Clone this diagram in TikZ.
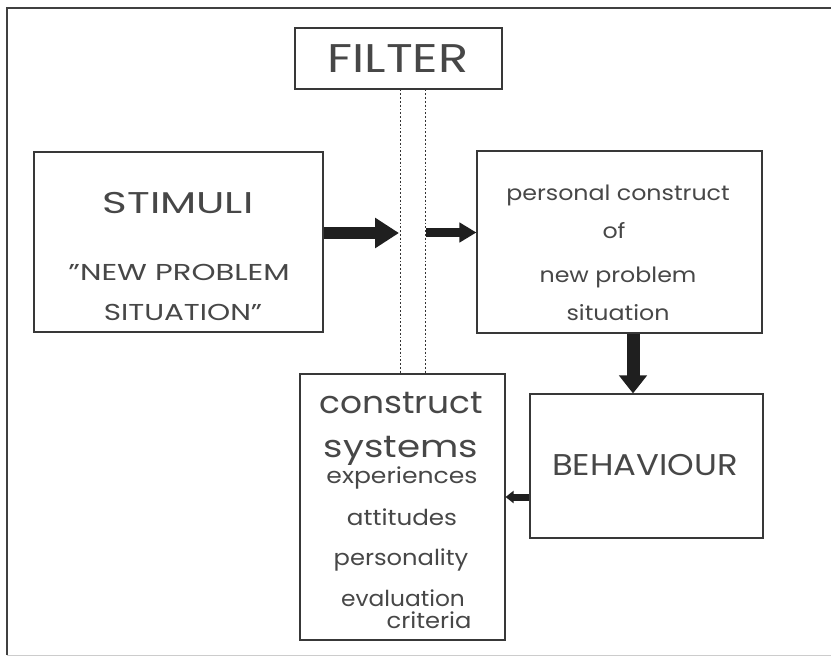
\documentclass[tikz,border=0pt]{standalone}
\usepackage{fontspec}
\setmainfont{Poppins}
\usetikzlibrary{arrows.meta}
\newcommand{\wx}[2]{\scalebox{#1}[1]{#2}}
\begin{document}
\begin{tikzpicture}[x=1pt,y=-1pt,
  box/.style={draw=black!78,line width=1.1pt,inner sep=0pt,fill=none},
  txt/.style={inner sep=0pt,anchor=base,text=black!72},
  blockarrow/.style={draw=black!88,line cap=butt},
  dotline/.style={draw=black!80,line width=1pt,dash pattern=on 1.8pt off 2pt}]
\useasboundingbox (0,0) rectangle (831,659);
% frame
\draw[black!75,line width=1.3pt] (7,655) -- (7,8) -- (831,8);
\draw[black!20,line width=1pt] (7,655) -- (831,655);
% boxes
\node[box,minimum width=207pt,minimum height=61pt] (filter) at (398.5,58.5) {};
\node[box,minimum width=289pt,minimum height=180pt] (stim) at (178.5,242) {};
\node[box,minimum width=285pt,minimum height=182pt] (pers) at (619.5,242) {};
\node[box,minimum width=233pt,minimum height=144pt] (beh) at (646.5,466) {};
\node[box,minimum width=205pt,minimum height=266pt] (cons) at (402.5,507) {};
% filter lines
\coordinate (d1t) at (400,89.5);
\coordinate (d2t) at (425,89.5);
\coordinate (d1b) at (400,374);
\coordinate (d2b) at (425,374);
\draw[dotline] (d1t) -- (d1b);
\draw[dotline] (d2t) -- (d2b);
% texts
\node[txt,font=\fontsize{40}{40}\selectfont] (tf) at (398,72) {\wx{1.24}{FILTER}};
\node[txt,font=\fontsize{30}{30}\selectfont] (ts1) at (178,213) {\wx{1.4}{STIMULI}};
\node[txt,font=\fontsize{23}{23}\selectfont] (ts2) at (179,280) {\wx{1.33}{"NEW PROBLEM}};
\node[txt,font=\fontsize{23}{23}\selectfont] (ts3) at (183,320) {\wx{1.28}{SITUATION"}};
\node[txt,font=\fontsize{21}{21}\selectfont] (tp1) at (618,200) {\wx{1.13}{personal construct}};
\node[txt,font=\fontsize{21}{21}\selectfont] (tp2) at (614,238) {\wx{1.13}{of}};
\node[txt,font=\fontsize{21}{21}\selectfont] (tp3) at (618,282) {\wx{1.13}{new problem}};
\node[txt,font=\fontsize{21}{21}\selectfont] (tp4) at (618,320) {\wx{1.13}{situation}};
\node[txt,font=\fontsize{30}{30}\selectfont] (tb) at (645,475) {\wx{1.13}{BEHAVIOUR}};
\node[txt,font=\fontsize{31}{31}\selectfont] (tc1) at (401,413) {\wx{1.11}{construct}};
\node[txt,font=\fontsize{31}{31}\selectfont] (tc2) at (401,457) {\wx{1.2}{systems}};
\node[txt,font=\fontsize{22}{22}\selectfont] (tc3) at (402,483) {\wx{1.14}{experiences}};
\node[txt,font=\fontsize{22}{22}\selectfont] (tc4) at (402,525) {\wx{1.12}{attitudes}};
\node[txt,font=\fontsize{22}{22}\selectfont] (tc5) at (401,565) {\wx{1.1}{personality}};
\node[txt,font=\fontsize{22}{22}\selectfont] (tc6) at (403,606) {\wx{1.06}{evaluation}};
\node[txt,font=\fontsize{22}{22}\selectfont] (tc7) at (429,628) {\wx{1.1}{criteria}};
% arrows
\coordinate (a1e) at (399,233);
\coordinate (a2s) at (426,232.5);
\draw[blockarrow,line width=12pt,-{Triangle[width=29pt,length=24pt]}] (stim.east |- a1e) -- (a1e);
\draw[blockarrow,line width=9pt,-{Triangle[width=19pt,length=17pt]}] (a2s) -- (pers.west |- a2s);
\draw[blockarrow,line width=13pt,-{Triangle[width=27pt,length=18pt]}] (pers.south -| 633,0) -- (beh.north -| 633,0);
\coordinate (a4) at (0,497);
\draw[blockarrow,line width=7pt,-{Triangle[width=12pt,length=8pt]}] (beh.west |- a4) -- (cons.east |- a4);
\end{tikzpicture}
\end{document}
